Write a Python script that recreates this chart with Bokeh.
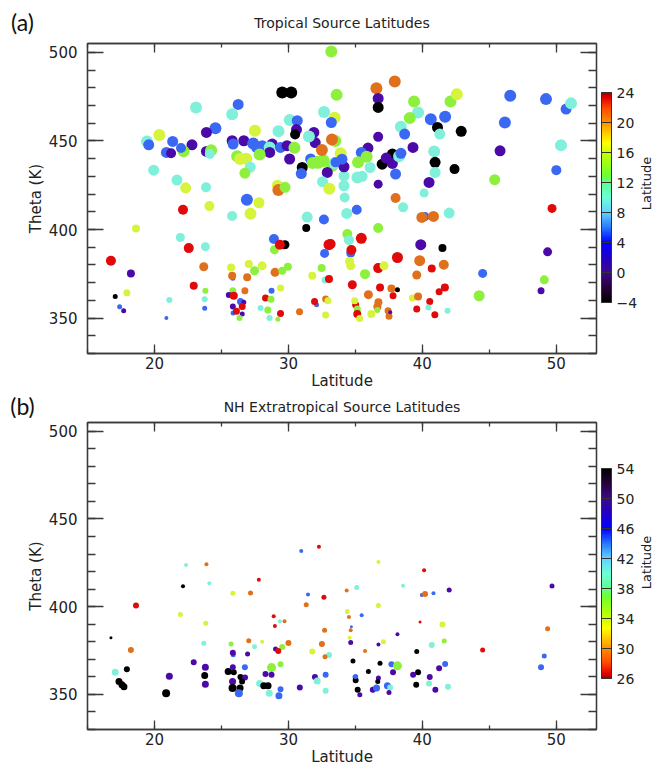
import numpy as np
from bokeh.plotting import figure
from bokeh.models import (LinearColorMapper, ColorBar, FixedTicker, LinearAxis,
                          Range1d, ColumnDataSource, Label)
from bokeh.layouts import column, row
from bokeh.embed import file_html
from bokeh.resources import INLINE

# ---------------- Panel (a): Tropical source latitudes ----------------
a_lat = [33.2, 29.54, 30.21, 23.1, 26.25, 25.8, 30.1, 30.66, 33.6, 32.66,
         33.45, 33.2, 20.36, 24.55, 23.88, 29.26, 30.6, 30.5, 27.5, 19.44,
         19.57, 21.36, 22.8, 20.89, 21.24, 22.18, 21.98, 23.88, 24.23, 24.13,
         25.8, 26.67, 25.87, 27.37, 27.67, 28.04, 28.79, 28.6, 29.41, 29.9,
         30.45, 28.6, 26.17, 26.4, 26.85, 27.85, 30.09, 27.15, 26.75, 31.9,
         32.0, 31.53, 33.5, 33.25, 31.66, 32.2, 32.6, 31.8, 33.28, 32.5,
         31.03, 30.96, 32.9, 33.45, 19.94, 21.68, 22.33, 23.85, 29.18, 29.25,
         29.75, 32.55, 33.05, 26.9, 27.8, 22.13, 24.1, 25.8, 27.17, 31.4,
         32.65, 18.62, 31.33, 36.57, 37.94, 36.7, 36.7, 39.38, 42.1, 42.57,
         46.56, 49.23, 50.73, 51.1, 39.68, 39.06, 40.63, 41.7, 46.16, 41.13,
         41.3, 42.9, 38.39, 38.68, 36.7, 39.3, 50.35, 45.8, 35.94, 35.44,
         33.9, 35.2, 35.84, 36.1, 37.0, 37.76, 37.3, 37.76, 38.26, 38.4,
         40.88, 40.95, 40.95, 42.4, 38.0, 50.0, 40.5, 36.7, 35.15, 35.5,
         34.15, 34.15, 34.2, 45.4, 40.13, 38.0, 34.15, 33.52, 34.0, 34.35,
         35.1, 38.56, 40.2, 39.96, 40.83, 42.0, 49.68, 36.7, 34.4, 34.52,
         35.44, 33.15, 39.88, 41.5, 34.65, 34.7, 34.57, 34.65, 36.7, 37.14,
         38.14, 35.72, 39.8, 40.7, 41.6, 39.58, 49.35, 44.5, 49.1, 48.86,
         44.24, 34.77, 36.84, 37.69, 38.14, 37.81, 35.97, 36.72, 36.64, 35.02,
         34.95, 35.14, 35.14, 35.32, 36.19, 36.64, 37.44, 37.51, 37.6, 39.26,
         39.68, 41.25, 41.68, 40.55, 40.45, 39.58, 40.93, 41.88, 22.56, 21.93,
         23.8, 28.92, 28.96, 29.74, 29.36, 33.03, 32.7, 16.75, 18.24, 23.68,
         25.72, 27.04, 27.47, 28.04, 25.85, 25.8, 26.92, 29.0, 29.54, 29.96,
         31.78, 32.48, 32.73, 33.03, 22.93, 23.8, 17.07, 17.94, 21.11, 23.75,
         23.75, 17.4, 17.7, 20.89, 26.75, 25.85, 25.55, 25.92, 26.42, 26.67,
         26.55, 25.85, 25.87, 26.55, 26.12, 26.35, 29.41, 28.74, 28.29, 28.7,
         27.92, 28.46, 28.59, 29.21, 29.41, 32.1, 31.95, 32.78, 32.95, 32.78, 30.83]
a_theta = [500.5, 477.4, 477.4, 468.9, 470.6, 465.1, 461.8, 461.4, 476.0, 466.3,
           463.1, 460.4, 453.3, 457.2, 454.8, 455.4, 456.4, 453.6, 455.7, 449.7,
           447.8, 449.7, 447.8, 443.5, 443.0, 444.1, 446.0, 444.1, 444.8, 442.6,
           450.1, 450.1, 448.2, 448.6, 446.3, 447.3, 448.2, 446.3, 446.3, 447.3,
           446.2, 443.5, 441.3, 439.8, 440.0, 442.4, 439.8, 435.2, 431.8, 454.8,
           449.1, 452.5, 450.0, 450.8, 439.8, 437.9, 438.8, 437.5, 436.0, 444.9,
           435.0, 431.6, 432.2, 437.6, 433.5, 427.9, 423.5, 423.8, 425.0, 422.3,
           423.8, 427.0, 423.0, 416.8, 415.1, 411.1, 413.2, 407.6, 408.9, 407.0,
           405.6, 400.6, 400.8, 479.8, 483.6, 474.0, 468.9, 472.3, 472.3, 476.4,
           475.5, 473.6, 468.0, 471.2, 466.1, 462.9, 462.3, 463.6, 460.4, 457.6,
           453.9, 455.4, 458.0, 453.9, 452.3, 446.3, 447.6, 444.4, 446.0, 443.5,
           443.0, 437.9, 441.1, 435.0, 436.9, 442.6, 440.3, 437.3, 441.3, 443.0,
           444.1, 437.9, 432.2, 434.1, 431.3, 433.5, 426.6, 425.6, 429.4, 430.0,
           430.3, 424.7, 418.1, 428.1, 420.6, 417.8, 435.4, 437.9, 439.7, 409.1,
           411.1, 412.5, 407.3, 406.8, 407.4, 409.3, 411.9, 400.8, 397.4, 394.0,
           395.0, 391.8, 391.4, 389.5, 386.7, 388.4, 382.0, 379.5, 378.2, 379.5,
           384.2, 374.8, 382.4, 378.0, 380.1, 374.3, 387.4, 375.2, 371.6, 365.4,
           362.6, 368.8, 367.3, 366.7, 366.0, 362.6, 363.2, 358.9, 356.4, 357.5,
           359.8, 355.1, 352.3, 349.8, 352.3, 354.5, 354.1, 351.0, 353.3, 361.3,
           362.2, 364.9, 367.3, 359.4, 356.0, 355.1, 351.9, 354.2, 389.5, 395.5,
           390.3, 394.6, 388.6, 391.4, 391.4, 391.4, 386.5, 382.4, 375.2, 379.0,
           378.6, 380.5, 376.7, 379.5, 372.5, 373.9, 373.0, 375.8, 376.7, 379.0,
           373.9, 378.2, 371.5, 372.0, 368.3, 365.4, 362.2, 364.3, 360.2, 360.6,
           355.5, 356.4, 354.2, 350.0, 365.4, 365.4, 363.0, 362.6, 359.4, 358.9,
           356.6, 356.6, 352.9, 352.3, 353.8, 350.0, 367.0, 365.4, 361.3, 360.6,
           355.7, 354.5, 350.0, 349.4, 352.6, 357.5, 359.4, 360.7, 359.8, 351.7, 353.6]
# source latitude of each trajectory (colour)
a_src = [12, -2, -2, 8, 5, 8, 8, 5, 12, 8,
         15, 5, 15, 5, 1, 8, 1, -2, 15, 8,
         5, 5, 1, 5, 1, 12, 5, 1, 12, 8,
         1, 1, 5, 5, 5, 5, 1, 8, 5, 1,
         12, 1, 12, 15, 15, 12, 1, 8, 12, 1,
         1, 8, 12, 19, 5, 12, 12, 12, 12, 19,
         -2, 5, 1, 8, 8, 8, 15, 8, 15, 19,
         12, 8, 15, 5, 15, 22, 15, 8, 15, 8,
         5, 15, -2, 19, 19, 1, -2, 12, 12, 15,
         5, 5, 5, 8, 8, 12, 5, 5, 5, -2,
         8, -2, 8, 5, 1, 1, 8, 1, 1, 5,
         15, 12, 12, 8, -2, -2, 1, 1, 8, 5,
         8, -2, 8, -2, 5, 5, 1, 1, 8, 8,
         8, 8, 8, 12, 8, 19, 1, 5, 5, 8,
         5, 8, 5, 19, 19, 8, 22, 12, 12, 8,
         22, 22, 1, -2, 5, 22, 15, 15, 22, 15,
         22, 12, 19, 22, 19, 19, 1, 5, 12, 1,
         12, 22, 22, 19, -2, 22, 19, 19, 19, 22,
         15, 12, 22, 15, 15, 12, 19, 19, 1, 15,
         19, 22, 22, 22, 8, 22, 22, 8, 22, 8,
         8, 5, 12, -2, 22, 22, 5, 22, 1, 19,
         15, 15, 12, 15, 5, 19, 19, 19, 12, 12,
         15, 12, 8, 22, 22, 12, -2, 15, 8, 8,
         5, 5, 1, 5, 19, 12, 1, 22, 5, 1,
         22, 1, 5, 1, 22, 12, 15, 5, 22, 12,
         8, 12, 8, 12, 22, 5, 22, 19, 15, 15, 19]
a_size = [12, 12, 12, 12, 11, 12, 12, 11, 12, 12,
          12, 11, 12, 12, 11, 12, 11, 10, 12, 12,
          11, 11, 11, 11, 10, 12, 10, 11, 12, 10,
          11, 11, 11, 12, 12, 11, 11, 12, 11, 11,
          12, 11, 12, 12, 12, 12, 11, 11, 11, 11,
          11, 12, 12, 12, 11, 13, 13, 12, 12, 12,
          11, 11, 11, 12, 11, 11, 11, 10, 11, 12,
          11, 11, 12, 12, 11, 10, 10, 10, 12, 11,
          10, 8, 8, 12, 12, 11, 11, 12, 12, 12,
          12, 12, 11, 12, 12, 12, 12, 12, 12, 11,
          11, 11, 12, 11, 10, 11, 12, 11, 11, 11,
          12, 12, 12, 11, 11, 11, 11, 11, 12, 11,
          12, 11, 11, 10, 11, 10, 11, 9, 12, 11,
          11, 11, 10, 11, 9, 10, 11, 10, 11, 11,
          10, 10, 9, 11, 11, 11, 9, 10, 10, 10,
          11, 10, 11, 8, 9, 10, 9, 9, 10, 9,
          11, 10, 11, 8, 10, 9, 9, 9, 9, 7,
          11, 9, 8, 8, 5, 7, 9, 8, 8, 7,
          7, 7, 8, 7, 8, 6, 7, 7, 4, 7,
          8, 7, 8, 7, 6, 7, 7, 6, 10, 9,
          9, 10, 9, 9, 10, 11, 9, 10, 8, 9,
          8, 8, 9, 9, 5, 8, 8, 9, 8, 8,
          8, 8, 7, 8, 8, 6, 5, 7, 6, 6,
          5, 5, 5, 4, 7, 7, 6, 8, 7, 5,
          7, 6, 5, 5, 7, 6, 7, 6, 7, 7,
          6, 7, 6, 5, 7, 5, 7, 7, 7, 7, 7]

# ---------------- Panel (b): NH extratropical source latitudes ----------------
b_lat = [30.96, 32.28, 22.36, 23.88, 22.13, 24.1, 27.79, 25.85, 27.17, 31.46,
         32.65, 18.62, 21.93, 23.83, 31.33, 28.9, 28.99, 29.36, 29.71, 32.7,
         16.75, 18.24, 23.68, 25.72, 27.04, 27.47, 28.04, 29.54, 30.0, 25.88,
         25.85, 26.95, 29.04, 29.24, 32.5, 31.78, 33.03, 32.73, 17.07, 17.94,
         21.11, 23.75, 23.8, 22.93, 25.5, 25.92, 25.85, 26.75, 26.42, 26.76,
         28.74, 29.41, 28.29, 28.74, 31.98, 32.78, 36.72, 40.13, 34.35, 35.1,
         38.56, 39.96, 40.2, 40.83, 42.0, 49.68, 34.4, 34.52, 36.72, 35.47,
         34.7, 34.65, 39.83, 41.5, 34.57, 34.65, 36.72, 37.09, 38.14, 49.35,
         41.63, 40.7, 35.72, 39.58, 44.5, 49.1, 48.86, 34.82, 36.84, 35.97,
         37.69, 38.14, 37.81, 39.68, 39.31, 41.25, 41.7, 34.97, 36.72, 40.55,
         17.35, 17.57, 17.72, 20.87, 23.8, 25.83, 25.83, 26.39, 26.54, 26.3,
         27.85, 28.16, 28.48, 28.57, 29.29, 29.41, 30.85, 32.15, 32.78, 35.02,
         35.02, 35.17, 35.33, 36.67, 36.3, 36.58, 37.39, 37.6, 37.51, 39.54,
         40.5, 40.97, 41.91]
b_theta = [431.7, 434.2, 423.8, 424.2, 411.6, 413.3, 415.4, 407.6, 407.8, 406.9,
           405.4, 400.7, 395.6, 390.5, 401.1, 394.5, 389.0, 391.7, 391.7, 386.6,
           382.3, 375.3, 379.1, 378.7, 380.6, 377.2, 380.0, 377.0, 379.3, 372.6,
           373.8, 373.0, 375.9, 374.7, 378.7, 374.4, 372.5, 371.4, 362.7, 364.4,
           360.3, 360.8, 365.5, 368.3, 363.1, 362.7, 365.5, 365.5, 359.9, 359.6,
           365.3, 367.2, 361.6, 361.2, 359.9, 361.2, 425.5, 420.8, 409.2, 411.0,
           412.0, 406.7, 407.3, 407.6, 409.5, 411.8, 397.3, 394.1, 400.7, 395.1,
           388.5, 386.6, 391.3, 389.8, 382.3, 379.6, 378.5, 380.0, 384.3, 387.5,
           380.4, 378.1, 374.7, 374.4, 375.3, 371.9, 365.5, 369.1, 367.8, 363.1,
           367.2, 366.3, 362.7, 362.7, 361.2, 364.9, 367.4, 359.9, 359.3, 359.9,
           357.3, 355.5, 354.3, 350.6, 355.8, 357.3, 353.6, 353.6, 357.3, 350.6,
           356.2, 354.9, 354.9, 350.6, 349.3, 353.0, 353.9, 357.7, 352.1, 358.1,
           360.2, 352.6, 349.8, 357.3, 352.6, 353.6, 354.9, 354.0, 351.1, 355.5,
           356.2, 352.6, 354.3]
b_src = [45, 28, 42, 31, 52, 42, 28, 35, 31, 45,
         28, 28, 35, 35, 31, 28, 28, 42, 31, 31,
         52, 31, 42, 38, 31, 42, 35, 38, 31, 45,
         49, 49, 49, 28, 31, 35, 42, 31, 42, 52,
         49, 52, 49, 49, 52, 52, 49, 45, 52, 49,
         38, 38, 49, 49, 49, 45, 35, 28, 31, 42,
         42, 45, 31, 45, 49, 49, 35, 31, 35, 45,
         45, 31, 28, 35, 35, 49, 49, 35, 49, 31,
         38, 42, 31, 52, 28, 45, 45, 52, 52, 52,
         45, 38, 49, 52, 49, 49, 45, 45, 49, 49,
         52, 52, 52, 52, 49, 49, 52, 52, 52, 45,
         42, 52, 52, 42, 45, 45, 49, 42, 42, 52,
         45, 52, 49, 52, 49, 45, 45, 42, 49, 52,
         42, 49, 42]
b_size = [4, 4, 4, 4, 4, 4, 4, 5, 5, 4,
          5, 6, 5, 5, 5, 4, 4, 4, 4, 5,
          3, 6, 5, 5, 5, 5, 4, 6, 6, 5,
          6, 5, 5, 6, 6, 6, 6, 5, 7, 6,
          7, 7, 7, 6, 7, 6, 6, 6, 6, 6,
          9, 6, 6, 6, 6, 6, 4, 4, 4, 5,
          4, 4, 6, 4, 5, 5, 5, 4, 5, 4,
          3, 4, 3, 6, 4, 5, 4, 5, 4, 5,
          5, 6, 4, 5, 5, 5, 6, 5, 5, 5,
          6, 9, 6, 6, 6, 6, 6, 5, 5, 6,
          7, 7, 7, 8, 7, 7, 8, 7, 6, 8,
          7, 7, 7, 7, 7, 6, 6, 7, 6, 6,
          5, 6, 5, 5, 6, 7, 7, 6, 5, 6,
          6, 6, 6]

x_ticks = [20, 30, 40, 50]
y_ticks = [350, 400, 450, 500]
a_cbar_ticks = [-4, 0, 4, 8, 12, 16, 20, 24]
b_cbar_ticks = [26, 30, 34, 38, 42, 46, 50, 54]

# discrete marker colours (black, purple, blue, aqua, green, yellow, orange, red)
MARKER_COLORS = ["#000000", "#4b0aa8", "#3a68f2", "#80f0da",
                 "#8cf03c", "#d6f43c", "#e0701c", "#e00a0a"]

# continuous colour-bar gradient (positions on the panel-a scale)
GRAD_STOPS = [(-4, "#000000"), (-2, "#28003c"), (0, "#3c0a8c"), (2, "#2000c8"),
              (4, "#0000ff"), (6, "#2878ff"), (8, "#64d2ff"), (10, "#6cffd8"),
              (12, "#60ff90"), (13, "#70ff30"), (16, "#c8ff00"), (17.3, "#ffff00"),
              (18.5, "#ffd000"), (20, "#ff9000"), (22, "#ff4800"), (23.4, "#e00000"),
              (24, "#a00000")]


def build_gradient(stops, lo, hi, n=256):
    v = np.array([s[0] for s in stops], float)
    rgb = np.array([[int(c[1:3], 16), int(c[3:5], 16), int(c[5:7], 16)] for _, c in stops], float)
    t = np.linspace(lo, hi, n)
    chans = [np.interp(t, v, rgb[:, k]) for k in range(3)]
    return ["#%02x%02x%02x" % (int(round(r)), int(round(g)), int(round(b)))
            for r, g, b in zip(*chans)]


GRAD_A = build_gradient(GRAD_STOPS, -4, 24)
GRAD_B = GRAD_A[::-1]

FONT = "DejaVu Sans"
AX_COL = "#3a3a3a"
TXT_COL = "#222222"
MAIN_W = 638
SIDE_W = 653 - MAIN_W


def style_axis(ax, horizontal, show_labels):
    ax.axis_line_color = AX_COL
    ax.axis_line_width = 1.3
    ax.major_tick_line_color = AX_COL
    ax.minor_tick_line_color = AX_COL
    ax.major_tick_line_width = 1.3
    ax.minor_tick_line_width = 1.3
    ax.major_tick_out = 0
    ax.minor_tick_out = 0
    if horizontal:
        ax.ticker = FixedTicker(ticks=x_ticks, minor_ticks=list(range(15, 54, 5)))
        ax.major_tick_in = 9
        ax.minor_tick_in = 4
    else:
        ax.ticker = FixedTicker(ticks=y_ticks, minor_ticks=list(range(330, 506, 10)))
        ax.major_tick_in = 16
        ax.minor_tick_in = 8
    ax.major_label_text_font = FONT
    ax.major_label_text_color = TXT_COL
    ax.axis_label_text_font = FONT
    ax.axis_label_text_font_style = "normal"
    ax.axis_label_text_color = TXT_COL
    ax.axis_label_text_font_size = "15px"
    if show_labels:
        ax.major_label_text_font_size = "15px"
    else:
        ax.major_label_text_font_size = "1px"
        ax.major_label_text_color = None
        ax.major_label_standoff = 0


def blank_fig(w, h):
    f = figure(width=w, height=h, x_range=Range1d(0, w), y_range=Range1d(0, h),
               output_backend="svg", toolbar_location=None, min_border=0,
               x_axis_location=None, y_axis_location=None)
    f.outline_line_color = None
    f.xgrid.visible = False
    f.ygrid.visible = False
    f.background_fill_color = "white"
    f.border_fill_color = "white"
    return f


def make_header(h, title, tag, title_cy, tag_cy):
    f = blank_fig(653, h)
    f.add_layout(Label(x=341.5, y=h - title_cy, text=title, text_align="center",
                       text_baseline="middle", text_font=FONT, text_font_size="14px",
                       text_color=TXT_COL))
    f.add_layout(Label(x=22, y=h - tag_cy, text=tag, text_align="center",
                       text_baseline="middle", text_font="Lato", text_font_size="23px",
                       text_color="#111111"))
    return f


def make_side(h, cy):
    f = blank_fig(SIDE_W, h)
    f.add_layout(Label(x=SIDE_W / 2, y=h - cy, text="Latitude", angle=np.pi / 2,
                       text_align="center", text_baseline="middle", text_font=FONT,
                       text_font_size="13px", text_color=TXT_COL))
    return f


def make_panel(lat, theta, src, size, marker_pal, lo, hi, grad, cticks, fig_h, bottom):
    p = figure(width=MAIN_W, height=fig_h, x_range=Range1d(15, 53), y_range=Range1d(330, 505),
               output_backend="svg", toolbar_location=None,
               min_border_left=87, min_border_right=MAIN_W - 87 - 509,
               min_border_top=4, min_border_bottom=bottom)
    p.xgrid.visible = False
    p.ygrid.visible = False
    p.outline_line_color = AX_COL
    p.outline_line_width = 1.3
    p.background_fill_color = "white"
    p.border_fill_color = "white"

    p.xaxis.axis_label = "Latitude"
    p.yaxis.axis_label = "Theta (K)"
    style_axis(p.xaxis[0], True, True)
    style_axis(p.yaxis[0], False, True)
    p.xaxis[0].major_label_standoff = 3
    p.xaxis[0].axis_label_standoff = 0
    p.yaxis[0].major_label_standoff = 10
    p.yaxis[0].axis_label_standoff = 1

    ax_top = LinearAxis()
    style_axis(ax_top, True, False)
    p.add_layout(ax_top, "above")
    ax_right = LinearAxis()
    style_axis(ax_right, False, False)
    p.add_layout(ax_right, "right")

    mapper = LinearColorMapper(palette=marker_pal, low=lo, high=hi)
    source = ColumnDataSource(dict(lat=lat, theta=theta, src=src, size=size))
    p.scatter(x="lat", y="theta", size="size", source=source, marker="circle",
              fill_color={"field": "src", "transform": mapper}, line_color=None)

    cmap = LinearColorMapper(palette=grad, low=lo, high=hi)
    cb = ColorBar(color_mapper=cmap, ticker=FixedTicker(ticks=cticks),
                  width=10, height=210, location=(514, 51), padding=0,
                  orientation="vertical", title=None,
                  major_label_text_font=FONT, major_label_text_font_size="14px",
                  major_label_text_color=TXT_COL, label_standoff=5,
                  major_tick_in=10, major_tick_out=0, major_tick_line_color="#333333",
                  major_tick_line_width=1, minor_tick_line_color=None,
                  bar_line_color="#333333", bar_line_width=1,
                  background_fill_alpha=0, border_line_color=None)
    p.add_layout(cb, "center")
    return p


HA, MA = 39, 353      # panel (a): header height, main height
HB, MB = 26, 350      # panel (b)

head_a = make_header(HA, "Tropical Source Latitudes", "(a)", 22, 21)
pa = make_panel(a_lat, a_theta, a_src, a_size, MARKER_COLORS, -4, 24, GRAD_A,
                a_cbar_ticks, MA, 38)
side_a = make_side(MA, 4 + 311 / 2)

head_b = make_header(HB, "NH Extratropical Source Latitudes", "(b)", 14, 13)
pb = make_panel(b_lat, b_theta, b_src, b_size, MARKER_COLORS[::-1], 26, 54, GRAD_B,
                b_cbar_ticks, MB, 35)
side_b = make_side(MB, 4 + 311 / 2)

layout = column(head_a, row(pa, side_a, spacing=0), head_b, row(pb, side_b, spacing=0),
                spacing=0)
open("out.html", "w").write(file_html(layout, INLINE))
